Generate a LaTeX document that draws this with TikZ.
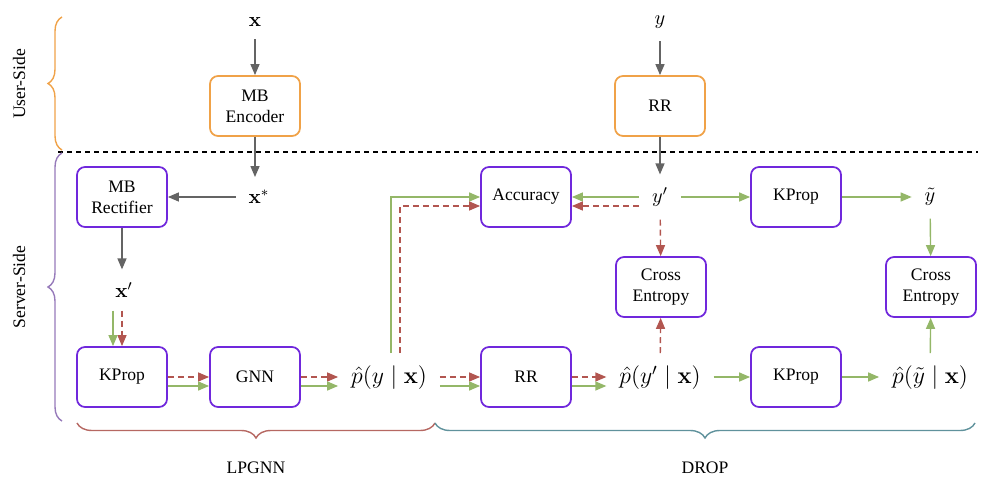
\RequirePackage{fix-cm}
\documentclass[tikz,border=0pt]{standalone}
\usepackage[no-math]{fontspec}
\setmainfont{Liberation Serif}
\usepackage{amsmath}
\usepackage{tikz}
\usetikzlibrary{arrows.meta,positioning,calc,decorations.pathreplacing}
\definecolor{ModuleViolet}{RGB}{112,40,220}
\definecolor{UserOrange}{RGB}{240,162,72}
\definecolor{FwdGreen}{RGB}{148,183,104}
\definecolor{BwdRed}{RGB}{178,86,80}
\definecolor{PlainGray}{RGB}{100,100,100}
\definecolor{ServerLilac}{RGB}{150,122,186}
\definecolor{LpgnnRed}{RGB}{182,104,98}
\definecolor{DropTeal}{RGB}{96,146,156}

\begin{document}
\begin{tikzpicture}[
  x=0.2mm, y=-0.2mm,
  module/.style={
    rectangle,
    rounded corners=1.6mm,
    draw=ModuleViolet,
    line width=1pt,
    fill=white,
    align=center,
    minimum width=18mm,
    minimum height=12mm,
    font=\normalsize
  },
  client/.style={
    module,
    draw=UserOrange
  },
  var/.style={
    inner sep=0pt,
    outer sep=2.6mm,
    font=\fontsize{11.5}{14}\selectfont
  },
  prob/.style={
    var,
    font=\fontsize{13.5}{16}\selectfont
  },
  arrow/.style={-{Triangle[length=2.2mm,width=1.8mm]}, line width=0.8pt},
  plain/.style={arrow, draw=PlainGray},
  fwd/.style={arrow, draw=FwdGreen},
  bwd/.style={arrow, draw=BwdRed, dash pattern=on 1.2mm off 0.8mm},
  side/.style={decorate, decoration={brace, amplitude=2.8mm}, line width=0.8pt},
  group/.style={decorate, decoration={brace, mirror, amplitude=3mm}, line width=0.8pt}
]
\useasboundingbox (0,0) rectangle (987,483);

% user side
\node[var] (xin) at (255,22) {$\mathbf{x}$};
\node[client] (enc) at (255,106) {MB\\Encoder};
\node[var] (yin) at (660,22) {$y$};
\node[client] (rr1) at (660,106) {RR};

% server side
\node[var] (xs) at (259,197) {$\mathbf{x}^{*}$};
\node[module] (rect) at (122,197) {MB\\Rectifier};
\node[var] (xp) at (124,290) {$\mathbf{x}'$};
\node[module] (kp1) at (122,377) {KProp};
\node[module] (gnn) at (255,377) {GNN};
\node[prob] (py) at (389,378) {$\hat{p}(y \mid \mathbf{x})$};
\node[module] (acc) at (526,197) {Accuracy};
\node[var] (yp) at (660,197) {$y'$};
\node[module] (ce1) at (661,287) {Cross\\Entropy};
\node[module] (kp2) at (796,197) {KProp};
\node[var] (yt) at (930,197) {$\tilde{y}$};
\node[module] (ce2) at (931,287) {Cross\\Entropy};
\node[module] (rr2) at (526,377) {RR};
\node[prob] (pyp) at (660,378) {$\hat{p}(y' \mid \mathbf{x})$};
\node[module] (kp3) at (796,377) {KProp};
\node[prob] (pyt) at (930,378) {$\hat{p}(\tilde{y} \mid \mathbf{x})$};

% gray flow
\draw[plain] (xin) -- (enc);
\draw[plain] (enc.south) -- (enc.south |- xs.north);
\draw[plain] (xs.west |- rect.east) -- (rect.east);
\draw[plain] (rect.south) -- (rect.south |- xp.north);
\draw[plain] (yin) -- (rr1);
\draw[plain] (rr1) -- (yp);

% lpgnn
\draw[bwd] (kp1.north |- xp.south) -- (kp1.north);
\draw[fwd] ([xshift=-1.8mm]kp1.north |- xp.south) -- ([xshift=-1.8mm]kp1.north);
\draw[bwd] (kp1.east) -- (gnn.west);
\draw[fwd] ([yshift=-1.8mm]kp1.east) -- ([yshift=-1.8mm]gnn.west);
\draw[bwd] (gnn.east) -- (gnn.east -| py.west);
\draw[fwd] ([yshift=-1.8mm]gnn.east) -- ([yshift=-1.8mm]gnn.east -| py.west);
\draw[fwd] ([xshift=0.4mm]py.north) |- (acc.west);
\draw[bwd] ([xshift=2.2mm]py.north) |- ([yshift=-1.8mm]acc.west);

% drop
\draw[fwd] (yp.west) -- (acc.east);
\draw[bwd] ([yshift=-1.8mm]yp.west) -- ([yshift=-1.8mm]acc.east);
\draw[bwd] (yp) -- (ce1);
\draw[fwd] (yp) -- (kp2);
\draw[fwd] (kp2) -- (yt);
\draw[fwd] (yt) -- (ce2);
\draw[bwd] (py.east |- rr2.west) -- (rr2.west);
\draw[fwd] ([yshift=-1.8mm]py.east |- rr2.west) -- ([yshift=-1.8mm]rr2.west);
\draw[bwd] (rr2.east) -- (rr2.east -| pyp.west);
\draw[fwd] ([yshift=-1.8mm]rr2.east) -- ([yshift=-1.8mm]rr2.east -| pyp.west);
\draw[bwd] (pyp) -- (ce1);
\draw[fwd] (pyp.east |- kp3.west) -- (kp3.west);
\draw[fwd] (kp3.east) -- (kp3.east -| pyt.west);
\draw[fwd] (pyt) -- (ce2);

% separator and braces
\draw[line width=0.6pt, dash pattern=on 1mm off 0.8mm] (58,152) -- (978,152);
\draw[side, UserOrange] (62,150) -- (62,17);
\draw[side, ServerLilac] (62,421) -- (62,153);
\draw[group, LpgnnRed] (77,423) -- (435,423);
\draw[group, DropTeal] (435,423) -- (975,423);
\node[rotate=90] (user) at (19,84) {User-Side};
\node[rotate=90] (server) at (19,287) {Server-Side};
\node (lpgnn) at (256,468) {LPGNN};
\node (drop) at (705,468) {DROP};
\end{tikzpicture}
\end{document}
